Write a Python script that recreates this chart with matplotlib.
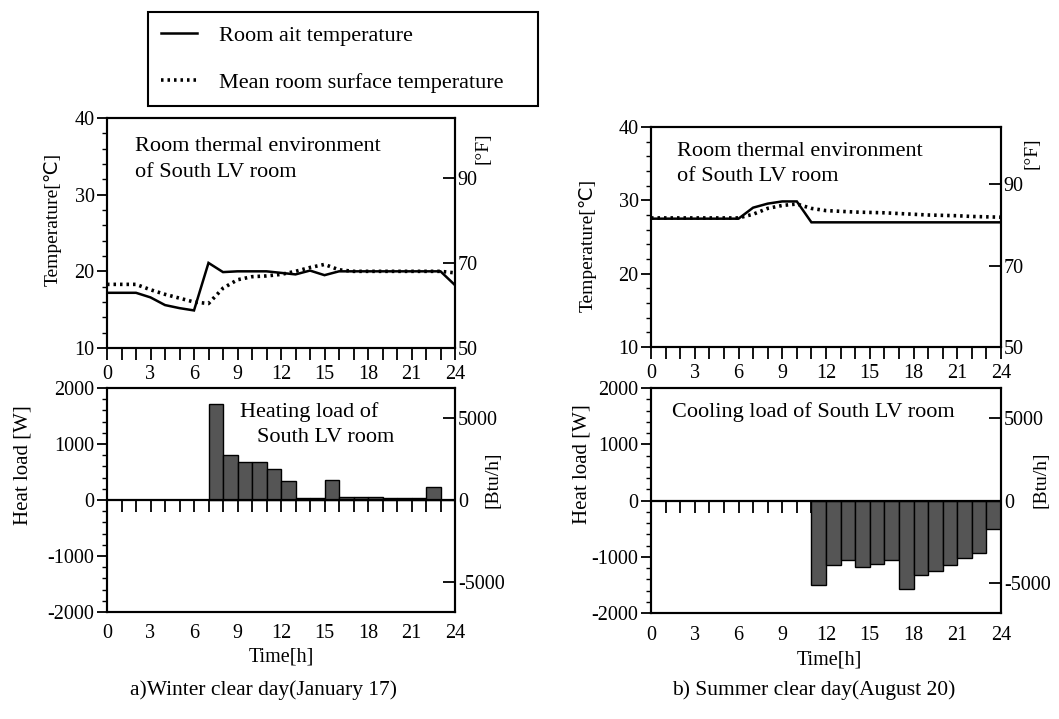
import matplotlib
matplotlib.use('Agg')
import matplotlib.pyplot as plt
from matplotlib.ticker import MultipleLocator
from matplotlib.lines import Line2D

plt.rcParams['font.family'] = ['Liberation Serif', 'DejaVu Sans']
plt.rcParams['axes.unicode_minus'] = False

# ---------------- data ----------------
hours = list(range(25))
winter_air = [17.2, 17.2, 17.2, 16.6, 15.6, 15.2, 14.9, 21.1, 19.9, 20.0, 20.0, 20.0, 19.8,
              19.6, 20.1, 19.5, 20.0, 20.0, 20.0, 20.0, 20.0, 20.0, 20.0, 20.0, 18.2]
winter_surf = [18.3, 18.3, 18.3, 17.6, 17.0, 16.5, 16.0, 15.8, 17.8, 18.9, 19.3, 19.4, 19.6,
               20.0, 20.5, 20.9, 20.2, 20.0, 20.0, 20.0, 20.0, 20.0, 20.0, 20.0, 19.8]
summer_air = [27.5, 27.5, 27.5, 27.5, 27.5, 27.5, 27.5, 29.0, 29.55, 29.85, 29.85, 27.0, 27.0,
              27.0, 27.0, 27.0, 27.0, 27.0, 27.0, 27.0, 27.0, 27.0, 27.0, 27.0, 27.0]
summer_surf = [27.6, 27.6, 27.6, 27.6, 27.6, 27.6, 27.6, 28.1, 28.9, 29.3, 29.5, 28.9, 28.6,
               28.5, 28.4, 28.35, 28.3, 28.2, 28.1, 28.0, 27.95, 27.9, 27.8, 27.75, 27.7]

winter_load_hours = list(range(7, 24))
winter_load = [1720, 810, 680, 670, 550, 340, 30, 30, 350, 60, 50, 45, 40, 35, 40, 240, 0]
summer_load_hours = list(range(11, 24))
summer_load = [-1510, -1140, -1060, -1180, -1130, -1060, -1570, -1330, -1250, -1150, -1030, -940, -510]

hour_ticks = [0, 3, 6, 9, 12, 15, 18, 21, 24]
temp_ticks = [10, 20, 30, 40]
f_ticks = [50, 70, 90]
load_ticks = [-2000, -1000, 0, 1000, 2000]
btu_ticks = [-5000, 0, 5000]

W, H = 1059, 719
fig = plt.figure(figsize=(W / 100, H / 100), dpi=100)


def px_axes(x0, y0, x1, y1):
    return fig.add_axes([x0 / W, 1 - y1 / H, (x1 - x0) / W, (y1 - y0) / H])


LW_SPINE = 1.5
TICK_FS = 14.5


def style_spines(ax):
    for s in ax.spines.values():
        s.set_linewidth(LW_SPINE)


def temp_panel(ax, air, surf, ylab_xy, flab_xy, ann_xy):
    ax.plot(hours, air, color='black', lw=1.8, solid_joinstyle='miter')
    ax.plot(hours, surf, color='black', lw=2.6, ls=(0, (0.7, 1.1)))
    ax.set_xlim(0, 24)
    ax.set_ylim(10, 40)
    ax.set_xticks(hour_ticks)
    ax.xaxis.set_minor_locator(MultipleLocator(1))
    ax.tick_params(axis='x', which='both', direction='out', length=8.5, width=1.3,
                   labelsize=TICK_FS, pad=4)
    ax.set_yticks(temp_ticks)
    ax.yaxis.set_minor_locator(MultipleLocator(2))
    ax.tick_params(axis='y', which='major', direction='out', length=7, width=1.3,
                   labelsize=TICK_FS, pad=2)
    ax.tick_params(axis='y', which='minor', direction='out', length=3.5, width=1)
    ax.set_ylabel('Temperature[℃]', fontsize=14)
    ax.yaxis.set_label_coords(*ylab_xy)
    style_spines(ax)
    ax.text(ann_xy[0], ann_xy[1], 'Room thermal environment\nof South LV room',
            transform=ax.transAxes, fontsize=16, ha='left', va='center', linespacing=1.45)
    ax2 = ax.twinx()
    ax2.set_ylim(10 * 1.8 + 32, 40 * 1.8 + 32)
    ax2.set_yticks(f_ticks)
    ax2.tick_params(axis='y', direction='in', length=9, width=1.3, labelsize=TICK_FS, pad=2)
    ax2.set_ylabel('[°F]', fontsize=14)
    ax2.yaxis.set_label_coords(*flab_xy)
    style_spines(ax2)


def load_panel(ax, lh, lv, ylab_xy, blab_xy, xlab_xy):
    ax.bar(lh, lv, width=1.0, align='edge', color='#555555', edgecolor='black',
           lw=1.0, zorder=2)
    ax.axhline(0, color='black', lw=1.6, zorder=3)
    ax.set_xlim(0, 24)
    ax.set_ylim(-2000, 2000)
    ax.set_xticks(hour_ticks)
    ax.tick_params(axis='x', which='both', length=0, pad=9, labelsize=TICK_FS)
    ax.set_yticks(load_ticks)
    ax.yaxis.set_minor_locator(MultipleLocator(200))
    ax.tick_params(axis='y', which='major', direction='out', length=7, width=1.3,
                   labelsize=TICK_FS, pad=2)
    ax.tick_params(axis='y', which='minor', direction='out', length=3.5, width=1)
    ax.set_ylabel('Heat load [W]', fontsize=15)
    ax.yaxis.set_label_coords(*ylab_xy)
    ax.set_xlabel('Time[h]', fontsize=14.5)
    ax.xaxis.set_label_coords(*xlab_xy)
    style_spines(ax)
    sec = ax.secondary_xaxis(0.5)
    sec.set_alignment('bottom')
    sec.set_xticks(list(range(1, 24)))
    sec.tick_params(axis='x', direction='out', length=8.5, width=1.3,
                    labelbottom=False, labeltop=False)
    for s in sec.spines.values():
        s.set_visible(False)
    ax2 = ax.twinx()
    ax2.set_ylim(-2000 * 3.412, 2000 * 3.412)
    ax2.set_yticks(btu_ticks)
    ax2.tick_params(axis='y', direction='in', length=9, width=1.3, labelsize=TICK_FS, pad=2)
    ax2.set_ylabel('[Btu/h]', fontsize=14)
    ax2.yaxis.set_label_coords(*blab_xy)
    style_spines(ax2)


# ---- left (winter) ----
axT1 = px_axes(107, 118, 455, 348)
temp_panel(axT1, winter_air, winter_surf, (-0.13, 0.56), (1.057, 0.87), (0.08, 0.82))
axL1 = px_axes(107, 388, 455, 612)
load_panel(axL1, winter_load_hours, winter_load, (-0.213, 0.655), (1.086, 0.59), (0.50, -0.16))
axL1.text(0.382, 0.893, 'Heating load of', transform=axL1.transAxes, fontsize=16,
          ha='left', va='center')
axL1.text(0.431, 0.777, 'South LV room', transform=axL1.transAxes, fontsize=16,
          ha='left', va='center')

# ---- right (summer) ----
axT2 = px_axes(651, 127, 1001, 347)
temp_panel(axT2, summer_air, summer_surf, (-0.154, 0.46), (1.063, 0.88), (0.074, 0.832))
axL2 = px_axes(651, 388, 1001, 613)
load_panel(axL2, summer_load_hours, summer_load, (-0.169, 0.66), (1.091, 0.59), (0.51, -0.165))
axL2.text(0.06, 0.893, 'Cooling load of South LV room', transform=axL2.transAxes,
          fontsize=16, ha='left', va='center')

# ---- legend ----
handles = [Line2D([], [], color='black', lw=1.8),
           Line2D([], [], color='black', lw=2.6, ls=(0, (0.7, 1.1)))]
leg = fig.legend(handles, ['Room ait temperature', 'Mean room surface temperature'],
                 loc='upper left',
                 bbox_to_anchor=(148 / W, 1 - 12 / H - 0.01, (538 - 148) / W, 0.01),
                 mode='expand', fontsize=16, frameon=True, fancybox=False,
                 edgecolor='black', framealpha=1, borderpad=0.6, labelspacing=1.2,
                 handlelength=1.6, handletextpad=1.0, borderaxespad=0)
leg.get_frame().set_linewidth(1.5)

# ---- captions ----
fig.text(264 / W, 1 - 690 / H, 'a)Winter clear day(January 17)', ha='center', va='center',
         fontsize=15.5)
fig.text(814 / W, 1 - 690 / H, 'b) Summer clear day(August 20)', ha='center', va='center',
         fontsize=15.5)

fig.savefig('out.png', dpi=100)
